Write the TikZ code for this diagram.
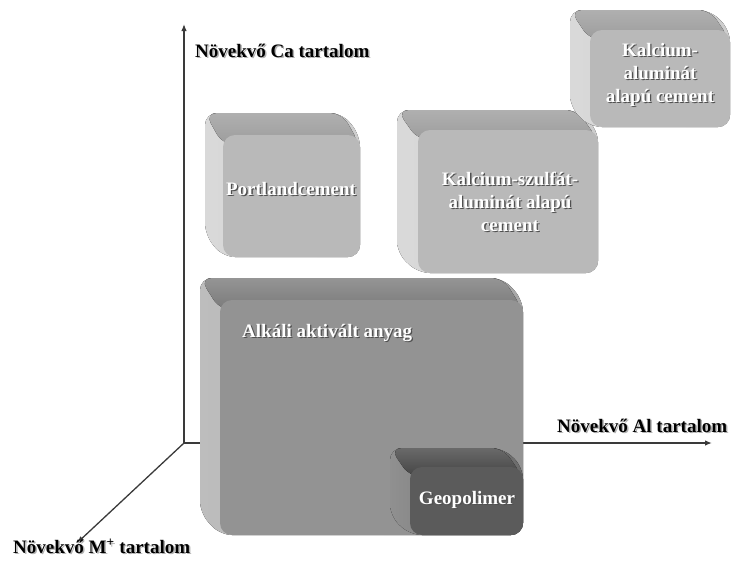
\documentclass[tikz,border=0pt]{standalone}
\usepackage{fontspec}
\setmainfont{Liberation Serif}
\usetikzlibrary{arrows.meta}
\definecolor{lfront}{HTML}{B9B9B9}
\definecolor{ltop}{HTML}{9C9C9C}
\definecolor{lside}{HTML}{CDCDCD}
\definecolor{mfront}{HTML}{939393}
\definecolor{mtop}{HTML}{7A7A7A}
\definecolor{mside}{HTML}{A7A7A7}
\definecolor{dfront}{HTML}{5B5B5B}
\definecolor{dtop}{HTML}{444444}
\definecolor{dside}{HTML}{6B6B6B}
\definecolor{axiscol}{HTML}{3A3A3A}
\definecolor{txtshadow}{HTML}{505050}
\definecolor{axshadow}{HTML}{B0B0B0}
% #1 x1, #2 y1, #3 x2, #4 y2 (front face), #5 dx, #6 dy (back offset), #7 front, #8 top, #9 side
\newcommand{\cubebox}[9]{%
  \fill[left color=#9!75!white, right color=#9, rounded corners=12]
    ({#1+#5},{#2+#6}) -- ({#3+#5},{#2+#6}) -- (#3,#2) -- (#3,#4) -- (#1,#4) -- ({#1+#5},{#4+#6}) -- cycle;
  \fill[top color=#8!80!white, bottom color=#8, rounded corners=12]
    ({#1+#5},{#2+#6}) -- ({#3+#5},{#2+#6}) -- (#3,{#2+10}) -- (#1,{#2+10}) -- cycle;
  \fill[#7, rounded corners=12] (#1,#2) rectangle (#3,#4);
}
% #1 name, #2 position x,y, #3 anchor, #4 text
\newcommand{\boxlabel}[4]{%
  \node[boxtxt, text=txtshadow, anchor=#3, xshift=1.3pt, yshift=-1.3pt] at (#2) {#4};
  \node[boxtxt, anchor=#3] (#1) at (#2) {#4};
}
\newcommand{\axislabel}[3]{%
  \node[axtxt, text=axshadow, anchor=base west, xshift=1.5pt, yshift=-1.5pt] at (#2) {#3};
  \node[axtxt, anchor=base west] (#1) at (#2) {#3};
}
\begin{document}
\begin{tikzpicture}[x=1pt,y=-1pt,
  boxtxt/.style={text=white, font=\bfseries\fontsize{19}{23}\selectfont, align=center, inner sep=0pt},
  axtxt/.style={text=black, font=\bfseries\fontsize{19}{23}\selectfont, inner sep=0pt},
  axis/.style={draw=axiscol, line width=1.3pt, -{Latex[length=7pt,width=5.5pt]}}]
\useasboundingbox (0,0) rectangle (731,565);
% axes
\coordinate (o) at (184,443);
\coordinate (ytip) at (184,24);
\coordinate (xtip) at (712,443);
\coordinate (ztip) at (77,543);
\draw[axis] (o) -- (ytip);
\draw[axis] (o) -- (xtip);
\draw[axis] (o) -- (ztip);
% boxes
\cubebox{223}{135}{360}{257}{-18}{-22}{lfront}{ltop}{lside}
\cubebox{418}{130}{598}{273}{-21}{-20}{lfront}{ltop}{lside}
\cubebox{590}{30}{730}{127}{-20}{-20}{lfront}{ltop}{lside}
\cubebox{220}{300}{523}{535}{-20}{-22}{mfront}{mtop}{mside}
\cubebox{410}{467}{523}{535}{-20}{-19}{dfront}{dtop}{dside}
% labels
\boxlabel{pc}{291,189}{center}{Portlandcement}
\boxlabel{ksa}{510,202}{center}{Kalcium-szulfát-\\aluminát alapú\\cement}
\boxlabel{ka}{660,75}{center}{Kalcium-\\aluminát\\alapú cement}
\boxlabel{aaa}{242,337}{base west}{Alkáli aktivált anyag}
\boxlabel{geo}{467,500}{center}{Geopolimer}
\axislabel{lca}{195,57}{Növekvő Ca tartalom}
\axislabel{lal}{557,432}{Növekvő Al tartalom}
\axislabel{lm}{13,553}{Növekvő M\textsuperscript{+} tartalom}
\end{tikzpicture}
\end{document}
